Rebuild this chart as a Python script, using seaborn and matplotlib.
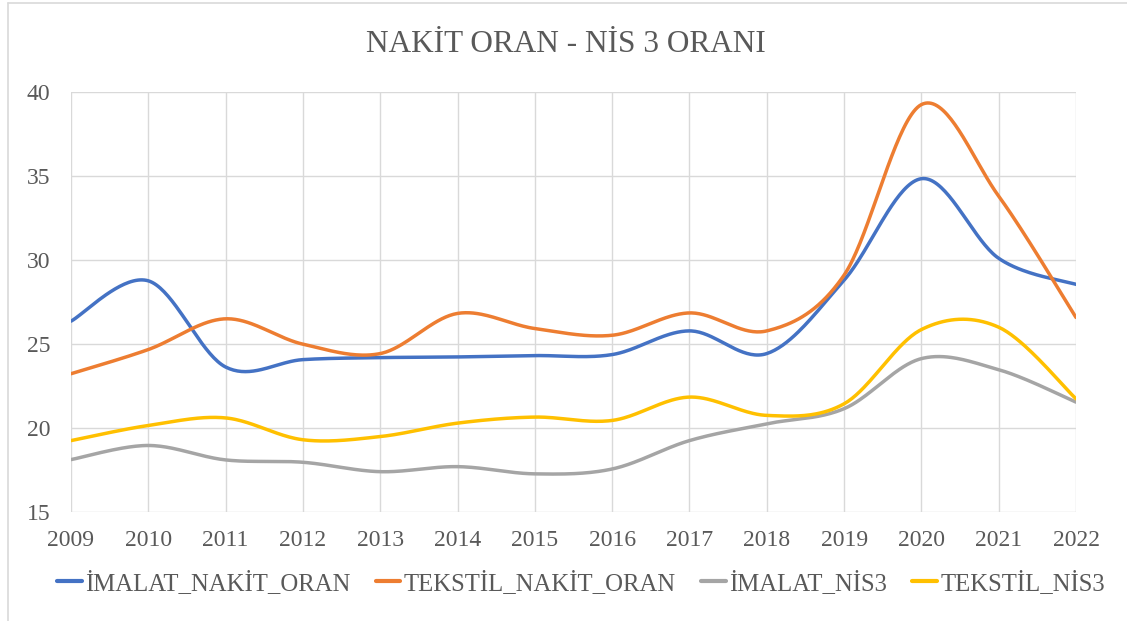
import numpy as np
import pandas as pd
import matplotlib
matplotlib.use("Agg")
import matplotlib.pyplot as plt
from matplotlib.lines import Line2D
import seaborn as sns

years = [2009, 2010, 2011, 2012, 2013, 2014, 2015, 2016, 2017, 2018, 2019, 2020, 2021, 2022]
imalat_nakit_oran = [26.36, 28.76, 23.63, 24.07, 24.19, 24.23, 24.31, 24.37, 25.78, 24.43, 28.8, 34.84, 30.1, 28.55]
tekstil_nakit_oran = [23.23, 24.67, 26.5, 24.99, 24.43, 26.82, 25.92, 25.52, 26.85, 25.78, 29.1, 39.25, 33.8, 26.58]
imalat_nis3 = [18.12, 18.96, 18.1, 17.96, 17.4, 17.7, 17.27, 17.56, 19.25, 20.25, 21.15, 24.13, 23.47, 21.54]
tekstil_nis3 = [19.25, 20.15, 20.6, 19.3, 19.49, 20.29, 20.65, 20.45, 21.84, 20.75, 21.44, 25.86, 26.0, 21.74]

series_names = ["İMALAT_NAKİT_ORAN", "TEKSTİL_NAKİT_ORAN", "İMALAT_NİS3", "TEKSTİL_NİS3"]
series_values = [imalat_nakit_oran, tekstil_nakit_oran, imalat_nis3, tekstil_nis3]
colors = ["#4472C4", "#ED7D31", "#A5A5A5", "#FFC000"]
y_ticks = [15, 20, 25, 30, 35, 40]


def smooth(xs, ys, n=40):
    """Excel-like smoothed line: cubic Bezier segments (Catmull-Rom control points)."""
    xs = np.asarray(xs, float)
    ys = np.asarray(ys, float)
    P = np.column_stack([xs, ys])
    out = []
    t = np.linspace(0, 1, n)[:, None]
    for i in range(len(P) - 1):
        p0 = P[i - 1] if i > 0 else P[i]
        p1 = P[i]
        p2 = P[i + 1]
        p3 = P[i + 2] if i + 2 < len(P) else P[i + 1]
        c1 = p1 + (p2 - p0) / 6.0
        c2 = p2 - (p3 - p1) / 6.0
        seg = ((1 - t) ** 3) * p1 + 3 * ((1 - t) ** 2) * t * c1 + 3 * (1 - t) * t ** 2 * c2 + t ** 3 * p2
        out.append(seg if i == 0 else seg[1:])
    out = np.vstack(out)
    return out[:, 0], out[:, 1]


frames = []
for name, vals in zip(series_names, series_values):
    sx, sy = smooth(years, vals)
    frames.append(pd.DataFrame({"x": sx, "y": sy, "series": name, "order": np.arange(len(sx))}))
df = pd.concat(frames, ignore_index=True)

sns.set_theme(style="white")
plt.rcParams["font.family"] = ["Liberation Serif", "DejaVu Serif"]

text_color = "#595959"
grid_color = "#D9D9D9"

fig = plt.figure(figsize=(11.27, 6.21), dpi=100)
ax = fig.add_axes([71 / 1127, 1 - 512 / 621, (1076 - 71) / 1127, (512 - 92) / 621])

sns.lineplot(data=df, x="x", y="y", hue="series", hue_order=series_names,
             palette=colors, sort=False, estimator=None, units="series",
             linewidth=2.5, ax=ax, legend=False)

ax.set_xlim(2009, 2022)
ax.set_ylim(15, 40)
ax.set_xticks(years)
ax.set_xticklabels([str(y) for y in years])
ax.set_yticks(y_ticks)
ax.set_yticklabels([str(v) for v in y_ticks])
ax.grid(True, color=grid_color, linewidth=1.0)
ax.set_axisbelow(True)
for s in ax.spines.values():
    s.set_visible(False)
ax.tick_params(axis="both", length=0, labelsize=17, labelcolor=text_color)
ax.tick_params(axis="x", pad=13)
ax.tick_params(axis="y", pad=15)
ax.set_xlabel("")
ax.set_ylabel("")

fig.text(566 / 1127, 1 - 44 / 621, "NAKİT ORAN - NİS 3 ORANI", ha="center", va="center",
         fontsize=22.5, color=text_color)

handles = [Line2D([0], [0], color=c, linewidth=3) for c in colors]
fig.legend(handles, series_names, loc="center", bbox_to_anchor=(581 / 1127, 1 - 583 / 621),
           ncol=4, frameon=False, fontsize=17.8, labelcolor=text_color,
           handlelength=1.0, handletextpad=0.15, columnspacing=1.0)

# chart area border (left and top visible)
fig.add_artist(Line2D([8 / 1127, 8 / 1127], [0, 1 - 3 / 621], transform=fig.transFigure,
                      color="#D9D9D9", linewidth=1.2))
fig.add_artist(Line2D([8 / 1127, 1], [1 - 3 / 621, 1 - 3 / 621], transform=fig.transFigure,
                      color="#D9D9D9", linewidth=1.2))

fig.savefig("out.png", dpi=100, facecolor="white")
